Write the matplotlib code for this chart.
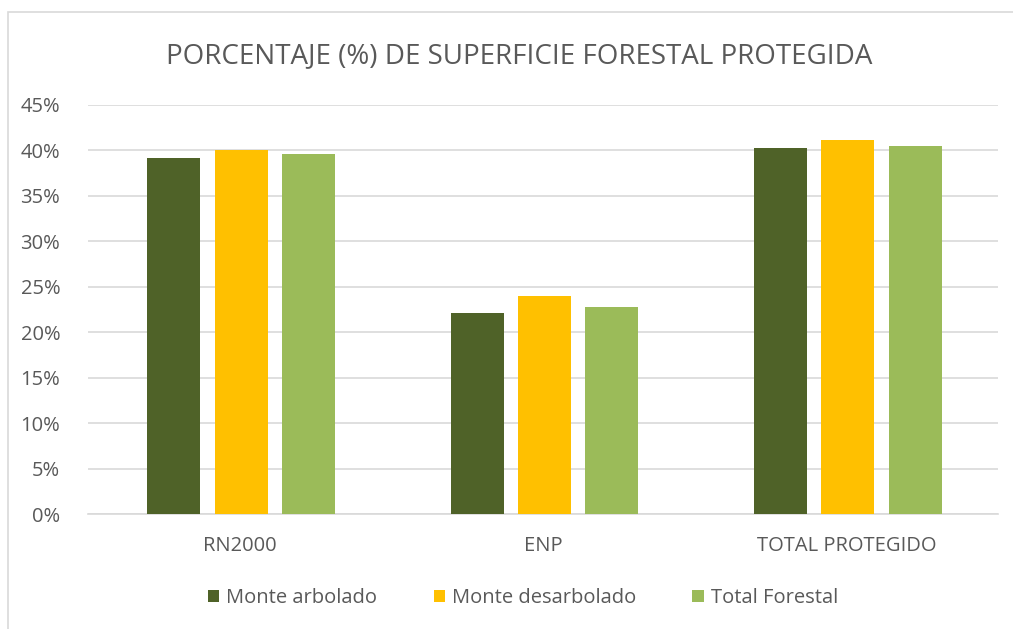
import matplotlib.pyplot as plt
import numpy as np
from matplotlib.patches import Rectangle

# --- datos ---
categorias = ['RN2000', 'ENP', 'TOTAL PROTEGIDO']
series = ['Monte arbolado', 'Monte desarbolado', 'Total Forestal']
monte_arbolado = [39.2, 22.1, 40.3]
monte_desarbolado = [40.1, 24.0, 41.1]
total_forestal = [39.6, 22.8, 40.5]
colores = ['#4F6228', '#FFC000', '#9BBB59']

plt.rcParams['font.family'] = ['Open Sans', 'DejaVu Sans']
gris = '#595959'

fig = plt.figure(figsize=(10.13, 6.29), dpi=100)
W, H = 1013, 629
ax = fig.add_axes([88 / W, 1 - 514 / H, (998 - 88) / W, (514 - 105) / H])

# marco del gráfico
fig.patches.append(Rectangle((8 / W, -0.1), 1.2, 1 - 12 / H + 0.1, transform=fig.transFigure,
                             fill=False, edgecolor='#D9D9D9', linewidth=1.2))

x = np.arange(len(categorias))
ancho = 0.175
paso = 0.222
for i, (vals, nombre) in enumerate(zip([monte_arbolado, monte_desarbolado, total_forestal], series)):
    ax.bar(x + (i - 1) * paso + 0.005, vals, ancho, color=colores[i], label=nombre, zorder=3)

ax.set_xlim(-0.5, 2.5)
ax.set_ylim(0, 45)
ax.set_yticks(np.arange(0, 46, 5))
ax.set_yticklabels([f'{v}%' for v in range(0, 46, 5)])
ax.set_xticks(x)
ax.set_xticklabels(categorias)
ax.grid(axis='y', color='#D9D9D9', linewidth=1.2, zorder=0)
for s in ['top', 'right', 'left']:
    ax.spines[s].set_visible(False)
ax.spines['bottom'].set_color('#D9D9D9')
ax.spines['bottom'].set_linewidth(1.2)
ax.tick_params(axis='y', length=0, colors=gris, labelsize=14.5, pad=20)
ax.tick_params(axis='x', length=0, colors=gris, labelsize=14.5, pad=16)

fig.text(519 / W, 1 - 56 / H, 'PORCENTAJE (%) DE SUPERFICIE FORESTAL PROTEGIDA',
         ha='center', va='center', fontsize=20, color=gris)

fig.legend(loc='center', bbox_to_anchor=(523 / W, 1 - 598 / H), ncol=3, frameon=False,
           fontsize=14.5, labelcolor=gris, handlelength=0.55, handleheight=0.55,
           handletextpad=0.35, columnspacing=2.8)

fig.savefig('out.png', dpi=100)
